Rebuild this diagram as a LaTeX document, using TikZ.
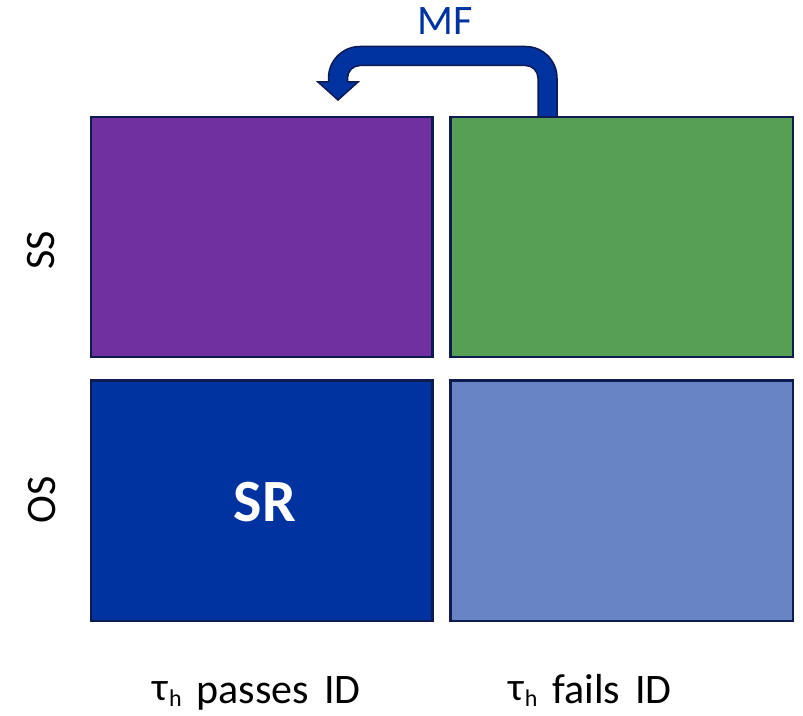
\documentclass[tikz,border=0pt]{standalone}
\usepackage{fontspec}
\setmainfont{Carlito}
\definecolor{navyedge}{RGB}{14,27,80}
\definecolor{ssos}{RGB}{112,48,160}
\definecolor{fakegreen}{RGB}{86,159,84}
\definecolor{srblue}{RGB}{0,51,160}
\definecolor{lightblue}{RGB}{104,132,197}
\tikzset{
  region/.style={draw=navyedge, line width=2.5pt},
  axislabel/.style={font=\fontsize{42}{42}\selectfont, text=black, inner sep=0pt},
}
% hadronic tau symbol with its subscript
\newcommand{\tauh}{\raisebox{3pt}{\fontsize{40}{40}\selectfont τ}\hspace{1pt}\raisebox{-3pt}{\fontsize{24}{24}\selectfont h}}
\newcommand{\gap}{\hspace{15pt}}
\begin{document}
\begin{tikzpicture}[x=1pt,y=1pt]
\useasboundingbox (0,0) rectangle (803,715);

% bent arrow from the fails-ID box back to the passes-ID box
\filldraw[fill=srblue, draw=navyedge, line width=1.5pt, line join=miter]
  (557,598) -- (557,637)
  arc[start angle=0, end angle=90, radius=31.5pt]
  -- (360,668.5)
  arc[start angle=90, end angle=180, radius=31.5pt]
  -- (328.5,633) -- (318,633) -- (338,615) -- (358,633) -- (347.5,633) -- (347.5,637)
  arc[start angle=180, end angle=90, radius=12.5pt]
  -- (525.5,649.5)
  arc[start angle=90, end angle=0, radius=12.5pt]
  -- (538,598) -- cycle;
\node[font=\fontsize{42}{42}\selectfont, text=srblue, anchor=base, inner sep=0pt] (mf) at (445.5,680) {MF};

% the four regions
\node[region, fill=ssos, minimum width=341.5pt, minimum height=240pt, anchor=south west] (sspass) at (89.5,356.5) {};
\node[region, fill=fakegreen, minimum width=342.5pt, minimum height=240pt, anchor=south west] (ssfail) at (449,356.5) {};
\node[region, fill=srblue, minimum width=341.5pt, minimum height=240pt, anchor=south west] (ospass) at (89.5,93) {};
\node[region, fill=lightblue, minimum width=342.5pt, minimum height=240pt, anchor=south west] (osfail) at (449,93) {};

\node[font=\bfseries\fontsize{60}{60}\selectfont, text=white, anchor=base, inner sep=0pt] (sr) at (265,193) {SR};

% axis labels
\node[axislabel, rotate=90] (ss) at (41.5,465) {SS};
\node[axislabel, rotate=90] (os) at (42,215) {OS};
\node[axislabel, anchor=base] (pass) at (256.5,12) {\tauh\gap passes\gap ID};
\node[axislabel, anchor=base] (fail) at (590,12) {\tauh\gap fails\gap ID};
\end{tikzpicture}
\end{document}
